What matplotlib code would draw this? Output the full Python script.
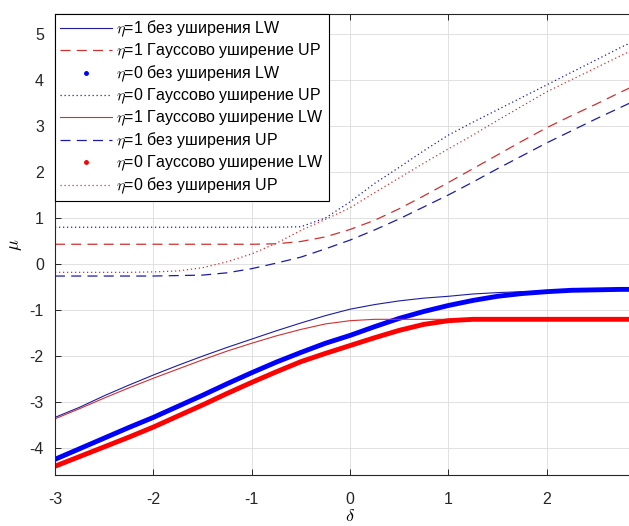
import matplotlib
matplotlib.use("Agg")
import matplotlib.pyplot as plt
from matplotlib.lines import Line2D

plt.rcParams['font.family'] = ['Liberation Sans', 'DejaVu Sans']
plt.rcParams['mathtext.fontset'] = 'cm'
plt.rcParams['axes.unicode_minus'] = False

# detuning grid
delta = [-3, -2.75, -2.5, -2.25, -2, -1.75, -1.5, -1.25, -1, -0.75, -0.5, -0.25,
         0, 0.25, 0.5, 0.75, 1, 1.25, 1.5, 1.75, 2, 2.25, 2.5, 2.75, 3]

# lower branches (LW)
lw_eta1_plain = [-3.33, -3.11, -2.86, -2.63, -2.41, -2.2, -2.0, -1.81, -1.63, -1.45, -1.28, -1.12,
                 -0.98, -0.88, -0.8, -0.74, -0.7, -0.65, -0.62, -0.6, -0.59, -0.58, -0.57, -0.57, -0.56]
lw_eta1_gauss = [-3.36, -3.14, -2.91, -2.69, -2.48, -2.28, -2.08, -1.89, -1.72, -1.56, -1.42, -1.3,
                 -1.23, -1.2, -1.2, -1.2, -1.2, -1.2, -1.2, -1.2, -1.2, -1.2, -1.2, -1.2, -1.2]
lw_eta0_plain = [-4.24, -4.01, -3.78, -3.55, -3.33, -3.09, -2.85, -2.6, -2.36, -2.13, -1.92, -1.72,
                 -1.55, -1.36, -1.18, -1.03, -0.9, -0.79, -0.7, -0.64, -0.6, -0.57, -0.56, -0.55, -0.55]
lw_eta0_gauss = [-4.39, -4.18, -3.97, -3.76, -3.54, -3.3, -3.06, -2.81, -2.57, -2.34, -2.12, -1.94,
                 -1.77, -1.6, -1.44, -1.31, -1.23, -1.2, -1.2, -1.2, -1.2, -1.2, -1.2, -1.2, -1.2]

# upper branches (UP)
up_eta1_plain = [-0.26, -0.26, -0.26, -0.26, -0.26, -0.25, -0.24, -0.19, -0.1, 0.02, 0.15, 0.33,
                 0.52, 0.74, 0.98, 1.24, 1.5, 1.78, 2.07, 2.35, 2.63, 2.89, 3.15, 3.4, 3.65]
up_eta1_gauss = [0.43, 0.43, 0.43, 0.43, 0.43, 0.43, 0.43, 0.43, 0.43, 0.44, 0.49, 0.59,
                 0.75, 0.95, 1.2, 1.48, 1.77, 2.07, 2.37, 2.67, 2.96, 3.22, 3.47, 3.73, 3.98]
up_eta0_plain = [-0.18, -0.18, -0.18, -0.18, -0.17, -0.15, -0.08, 0.05, 0.22, 0.45, 0.73, 0.97,
                 1.22, 1.55, 1.87, 2.19, 2.5, 2.8, 3.12, 3.43, 3.74, 4.0, 4.26, 4.52, 4.78]
up_eta0_gauss = [0.8, 0.8, 0.8, 0.8, 0.8, 0.8, 0.8, 0.8, 0.8, 0.8, 0.81, 1.0,
                 1.35, 1.75, 2.1, 2.46, 2.8, 3.08, 3.35, 3.62, 3.89, 4.16, 4.43, 4.7, 4.96]

labels = [r'$\eta$=1 без уширения LW',
          r'$\eta$=1 Гауссово уширение UP',
          r'$\eta$=0 без уширения LW',
          r'$\eta$=0 Гауссово уширение UP',
          r'$\eta$=1 Гауссово уширение LW',
          r'$\eta$=1 без уширения UP',
          r'$\eta$=0 Гауссово уширение LW',
          r'$\eta$=0 без уширения UP']

blue_thin = '#1c1ca8'
red_thin = '#d03030'

fig = plt.figure(figsize=(6.29, 5.26), dpi=100)
ax = fig.add_axes([0.0874, 0.097, 0.938, 0.8764])

h1, = ax.plot(delta, lw_eta1_plain, '-', color=blue_thin, lw=0.8)
h2, = ax.plot(delta, up_eta1_gauss, color=red_thin, lw=0.9, dashes=(8, 5))
ax.plot(delta, lw_eta0_plain, '-', color='#0000ff', lw=3.5, solid_capstyle='round')
h3 = Line2D([], [], ls='none', marker='.', ms=5, color='#0000ff')
h4, = ax.plot(delta, up_eta0_gauss, color=blue_thin, lw=0.9, dashes=(1, 2.2))
h5, = ax.plot(delta, lw_eta1_gauss, '-', color=red_thin, lw=0.8)
h6, = ax.plot(delta, up_eta1_plain, color=blue_thin, lw=0.9, dashes=(8, 5))
ax.plot(delta, lw_eta0_gauss, '-', color='#ff0000', lw=3.5, solid_capstyle='round')
h7 = Line2D([], [], ls='none', marker='.', ms=5, color='#ff0000')
h8, = ax.plot(delta, up_eta0_plain, color=red_thin, lw=0.9, dashes=(1, 2.2))

ax.set_xlim(-3, 3)
ax.set_ylim(-4.58, 5.43)
ax.set_xticks([-3, -2, -1, 0, 1, 2])
ax.set_yticks([-4, -3, -2, -1, 0, 1, 2, 3, 4, 5])
ax.grid(True, color='#dcdcdc', lw=0.6)
ax.set_axisbelow(True)
ax.tick_params(direction='in', top=True, right=True, length=4, width=0.7,
               labelsize=11.5, colors='#262626')
ax.tick_params(axis='x', pad=12)
ax.tick_params(axis='y', pad=8)
for s in ax.spines.values():
    s.set_color('#262626')
    s.set_linewidth(0.8)

ax.set_xlabel(r'$\delta$', fontsize=13, labelpad=1)
ax.set_ylabel(r'$\mu$', fontsize=13, labelpad=4)

leg = ax.legend([h1, h2, h3, h4, h5, h6, h7, h8], labels, loc='upper left',
                borderaxespad=0, fontsize=11.5, handlelength=3.3, handletextpad=0.25,
                labelspacing=0.16, borderpad=0.3, fancybox=False, framealpha=1)
leg.get_frame().set_edgecolor('black')
leg.get_frame().set_linewidth(0.8)

fig.savefig('out.png', dpi=100)
